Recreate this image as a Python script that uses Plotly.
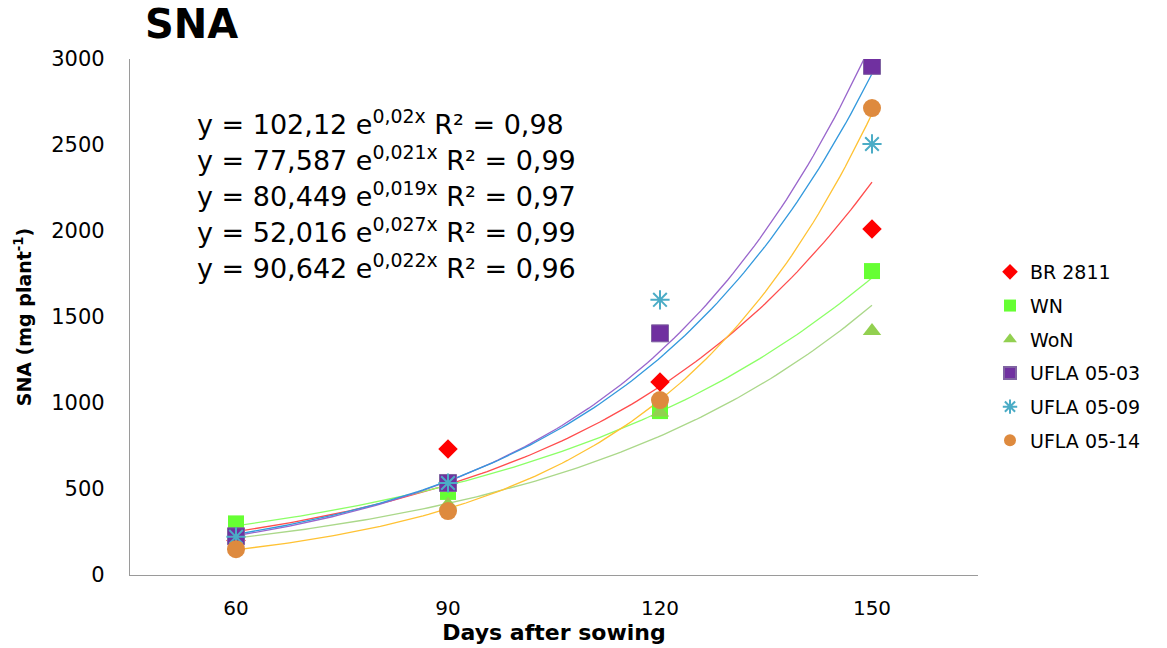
import numpy as np
import plotly.graph_objects as go

# Sampling days and shoot N accumulation (mg plant-1) per genotype
days = [60, 90, 120, 150]
series_names = ["BR 2811", "WN", "WoN", "UFLA 05-03", "UFLA 05-09", "UFLA 05-14"]
br_2811 = [200, 733, 1122, 2012]
wn = [300, 483, 953, 1767]
won = [205, 410, 945, 1419]
ufla_05_03 = [225, 535, 1405, 2960]
ufla_05_09 = [222, 535, 1600, 2506]
ufla_05_14 = [150, 372, 1017, 2715]

# Equations printed on the chart
equations = [
    ("102,12", "0,02x", "0,98"),
    ("77,587", "0,021x", "0,99"),
    ("80,449", "0,019x", "0,97"),
    ("52,016", "0,027x", "0,99"),
    ("90,642", "0,022x", "0,96"),
]

values = [br_2811, wn, won, ufla_05_03, ufla_05_09, ufla_05_14]
marker_styles = [
    dict(symbol="diamond", color="#FF0000", size=15),
    dict(symbol="square", color="#66FF33", size=16),
    dict(symbol="triangle-up", color="#92D050", size=16),
    dict(symbol="square", color="#7030A0", size=17, line=dict(color="#8064A2", width=1)),
    dict(symbol="asterisk-open", color="#4BACC6", size=16, line=dict(color="#4A9BB5", width=2)),
    dict(symbol="circle", color="#DE8A3E", size=18),
]
trend_colors = ["#FF4D4D", "#8CFF66", "#ABD88A", "#9966CC", "#3399DD", "#FFC233"]

FONT = "DejaVu Sans"
fig = go.Figure()

# Exponential trendlines: least-squares fit of ln(y) on x
xs = np.linspace(days[0], days[-1], 120)
for vals, col in zip(values, trend_colors):
    b, ln_a = np.polyfit(days, np.log(vals), 1)
    fig.add_trace(go.Scatter(
        x=xs, y=np.exp(ln_a + b * xs), mode="lines",
        line=dict(color=col, width=1.3), showlegend=False, hoverinfo="skip",
    ))

for i, (name, vals, mk) in enumerate(zip(series_names, values, marker_styles)):
    fig.add_trace(go.Scatter(
        x=days, y=vals, mode="markers", name=name, marker=mk,
        legendgroup=f"g{i}",
    ))

for i, (coef, expo, r2) in enumerate(equations):
    fig.add_annotation(
        xref="paper", yref="paper", x=(195 - 130) / 848,
        y=1 - (122.5 + 36 * i - 59) / 516,
        xanchor="left", yanchor="middle", showarrow=False,
        text=f"y = {coef} e<sup>{expo}</sup> R² = {r2}",
        font=dict(family=FONT, size=27, color="#000000"),
    )

fig.update_layout(
    width=1167, height=648,
    margin=dict(l=130, r=189, t=59, b=73),
    paper_bgcolor="white", plot_bgcolor="white",
    title=dict(
        text="<b>SNA</b>", x=145 / 1167, xanchor="left", xref="container",
        y=1 - 24 / 648, yanchor="middle", yref="container",
        font=dict(family=FONT, size=40, color="#000000"),
    ),
    xaxis=dict(
        range=[45, 165], tickvals=days, ticktext=[str(d) for d in days],
        showgrid=False, zeroline=False, showline=True, linecolor="#9A9A9A", linewidth=1.3,
        ticks="", ticklabelstandoff=15, automargin=False,
        tickfont=dict(family=FONT, size=20, color="#000000"),
        title=dict(text="<b>Days after sowing</b>", standoff=4,
                   font=dict(family=FONT, size=22, color="#000000")),
    ),
    yaxis=dict(
        range=[0, 3000], tickvals=[0, 500, 1000, 1500, 2000, 2500, 3000],
        showgrid=False, zeroline=False, showline=True, linecolor="#9A9A9A", linewidth=1.3,
        ticks="", ticklabelstandoff=20, automargin=False,
        tickfont=dict(family=FONT, size=21, color="#000000"),
        title=dict(text="<b>SNA (mg plant<sup>-1</sup>)</b>", standoff=14,
                   font=dict(family=FONT, size=19, color="#000000")),
    ),
    legend=dict(
        x=(990 - 130) / 848, y=(575 - 253) / 516, xanchor="left", yanchor="top",
        font=dict(family=FONT, size=19, color="#000000"),
        itemsizing="constant", tracegroupgap=6, bgcolor="rgba(0,0,0,0)",
    ),
    showlegend=True,
)

fig.write_html("out.html")
